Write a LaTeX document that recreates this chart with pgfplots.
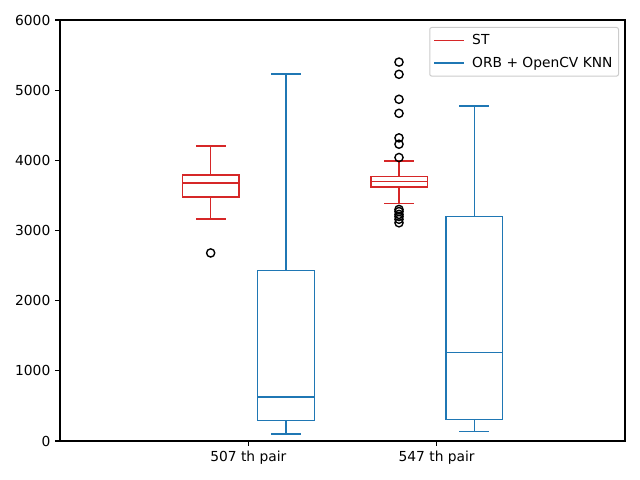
\documentclass[border=0pt]{standalone}
\usepackage{fontspec}
\setmainfont{DejaVu Sans}
\usepackage{pgfplots}
\pgfplotsset{compat=1.18}
\definecolor{stred}{HTML}{D62728}
\definecolor{orbblue}{HTML}{1F77B4}
\definecolor{legframe}{HTML}{CCCCCC}

\begin{document}
\fontsize{13.8bp}{16bp}\selectfont
\begin{tikzpicture}
\path[use as bounding box] (-60bp,-39bp) rectangle (580bp,441bp);
\begin{axis}[
    at={(0,0)}, anchor=south west,
    scale only axis,
    width=565bp, height=421bp,
    xmin=0, xmax=3,
    ymin=0, ymax=6000,
    xtick={1,2},
    xticklabels={507 th pair,547 th pair},
    ytick={0,1000,2000,3000,4000,5000,6000},
    scaled y ticks=false,
    /pgf/number format/assume math mode=true,
    yticklabel style={/pgf/number format/1000 sep={}},
    tick pos=left,
    tick align=outside,
    major tick length=4.9bp,
    tick style={black, line width=1.1bp},
    axis line style={line width=1.1bp},
    ticklabel style={font=\fontsize{13.8bp}{16bp}\selectfont},
    unbounded coords=jump,
    every axis plot/.append style={line width=1.5bp, line cap=rect},
    legend cell align=left,
    legend image code/.code={\draw[#1] plot coordinates {(0bp,0bp) (29bp,0bp)};},
    legend style={
        at={(rel axis cs:0.9894,0.9834)}, anchor=north east,
        draw=legframe, line width=1bp, rounded corners=2bp,
        fill=white, fill opacity=0.8, text opacity=1,
        font=\fontsize{13.8bp}{16bp}\selectfont,
        row sep=6bp, inner xsep=4bp, inner ysep=5bp,
        /tikz/every odd column/.append style={column sep=6bp},
    },
]
% boxes: rectangle q1-q3, median, whiskers and caps
% 507 th pair, ST (q1 3477, med 3677, q3 3791, whiskers 3164 / 4204)
\addplot[stred, forget plot] coordinates {
    (0.65,3477) (0.95,3477) (0.95,3791) (0.65,3791) (0.65,3477) (nan,nan)
    (0.65,3677) (0.95,3677) (nan,nan)
    (0.8,3477) (0.8,3164) (nan,nan) (0.725,3164) (0.875,3164) (nan,nan)
    (0.8,3791) (0.8,4204) (nan,nan) (0.725,4204) (0.875,4204)
};
% 507 th pair, ORB (q1 295, med 627, q3 2433, whiskers 100 / 5230)
\addplot[orbblue, forget plot] coordinates {
    (1.05,295) (1.35,295) (1.35,2433) (1.05,2433) (1.05,295) (nan,nan)
    (1.05,627) (1.35,627) (nan,nan)
    (1.2,295) (1.2,100) (nan,nan) (1.125,100) (1.275,100) (nan,nan)
    (1.2,2433) (1.2,5230) (nan,nan) (1.125,5230) (1.275,5230)
};
% 547 th pair, ST (q1 3620, med 3695, q3 3767, whiskers 3387 / 3990)
\addplot[stred, forget plot] coordinates {
    (1.65,3620) (1.95,3620) (1.95,3767) (1.65,3767) (1.65,3620) (nan,nan)
    (1.65,3695) (1.95,3695) (nan,nan)
    (1.8,3620) (1.8,3387) (nan,nan) (1.725,3387) (1.875,3387) (nan,nan)
    (1.8,3767) (1.8,3990) (nan,nan) (1.725,3990) (1.875,3990)
};
% 547 th pair, ORB (q1 309, med 1259, q3 3197, whiskers 138 / 4774)
\addplot[orbblue, forget plot] coordinates {
    (2.05,309) (2.35,309) (2.35,3197) (2.05,3197) (2.05,309) (nan,nan)
    (2.05,1259) (2.35,1259) (nan,nan)
    (2.2,309) (2.2,138) (nan,nan) (2.125,138) (2.275,138) (nan,nan)
    (2.2,3197) (2.2,4774) (nan,nan) (2.125,4774) (2.275,4774)
};
% outliers
\addplot[forget plot, only marks, mark=o, mark size=4.1bp,
    mark options={draw=black, line width=1.39bp}] coordinates {
    (0.8,2680)
    (1.8,5400) (1.8,5226) (1.8,4870) (1.8,4670) (1.8,4320) (1.8,4230) (1.8,4040)
    (1.8,3300) (1.8,3270) (1.8,3230) (1.8,3200) (1.8,3160) (1.8,3110)
};
\addlegendimage{stred, line width=1.5bp}
\addlegendentry{ST}
\addlegendimage{orbblue, line width=1.5bp}
\addlegendentry{ORB + OpenCV KNN}
\end{axis}
\end{tikzpicture}
\end{document}
